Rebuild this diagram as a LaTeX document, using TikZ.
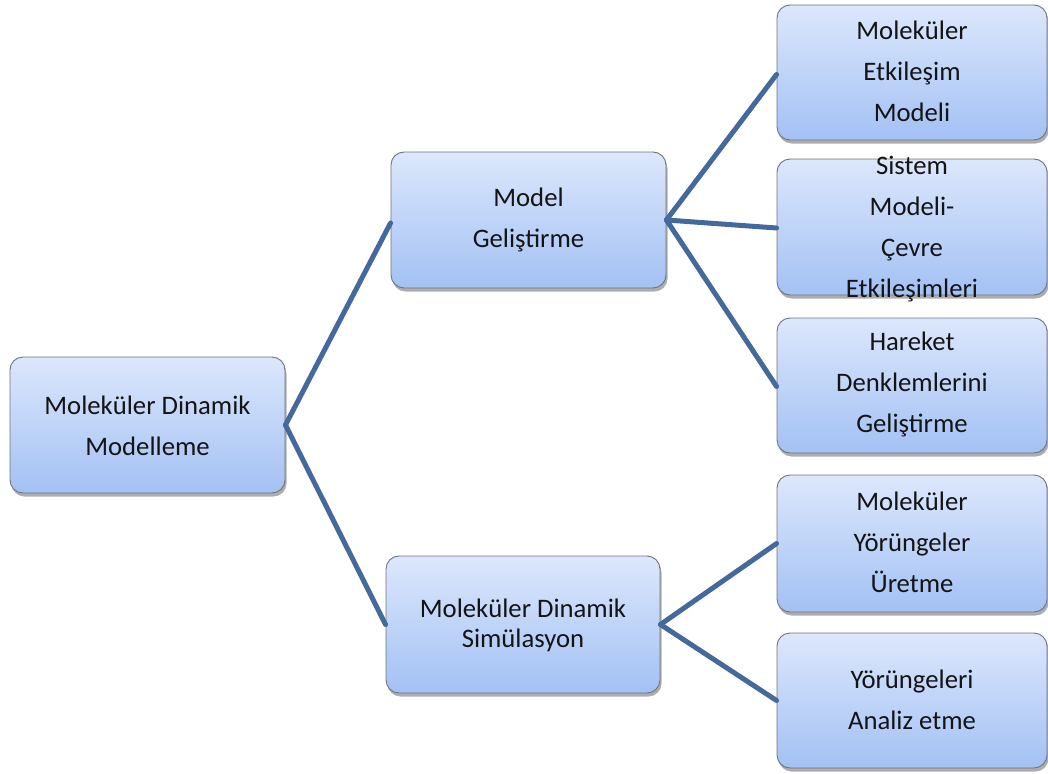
\documentclass[tikz,border=0pt]{standalone}
\usepackage{fontspec}
\setmainfont{Carlito}
\usetikzlibrary{shadows}
\definecolor{boxtop}{HTML}{DCE7FC}
\definecolor{boxbot}{HTML}{A3C1F4}
\definecolor{boxedge}{HTML}{6E737C}
\definecolor{conn}{HTML}{44699D}
\tikzset{
  mdbox/.style={draw=boxedge, line width=0.9pt, rounded corners=13pt,
    top color=boxtop, bottom color=boxbot, inner sep=0pt,
    drop shadow={shadow xshift=1.5pt, shadow yshift=-3.5pt, opacity=0.32, fill=black}},
  lbl/.style={font=\fontsize{26.7}{41}\selectfont, align=center, text=black!92, inner sep=0pt},
  lbltight/.style={font=\fontsize{26.7}{30}\selectfont, align=center, text=black!92, inner sep=0pt},
  conn/.style={draw=conn, line width=5pt, line cap=round},
}
\begin{document}
\begin{tikzpicture}[x=1pt, y=-1pt]
\useasboundingbox (0,0) rectangle (1048,773);
% boxes
\node[mdbox, minimum width=275pt, minimum height=136pt] (root) at (147.5,425) {};
\node[mdbox, minimum width=275pt, minimum height=136pt] (model) at (528.5,220) {};
\node[mdbox, minimum width=274pt, minimum height=137pt] (sim) at (523,624.5) {};
\node[mdbox, minimum width=270pt, minimum height=135pt] (r1) at (912,72.5) {};
\node[mdbox, minimum width=270pt, minimum height=136pt] (r2) at (912,227) {};
\node[mdbox, minimum width=270pt, minimum height=135pt] (r3) at (912,385.5) {};
\node[mdbox, minimum width=270pt, minimum height=137pt] (r4) at (912,543.5) {};
\node[mdbox, minimum width=270pt, minimum height=135pt] (r5) at (912,700.5) {};
% connectors
\draw[conn] (root.east) -- ([yshift=-3pt]model.west);
\draw[conn] (root.east) -- ([yshift=0pt]sim.west);
\draw[conn] (model.east) -- ([yshift=-2pt]r1.west);
\draw[conn] (model.east) -- ([yshift=-1pt]r2.west);
\draw[conn] (model.east) -- ([yshift=-1pt]r3.west);
\draw[conn] (sim.east) -- (r4.west);
\draw[conn] (sim.east) -- (r5.west);
% texts
\node[lbl] (troot) at (147.5,426) {Moleküler Dinamik\\Modelleme};
\node[lbl] (tmodel) at (528.5,220) {Model\\Geliştirme};
\node[lbltight] (tsim) at (523,625) {Moleküler Dinamik\\Simülasyon};
\node[lbl] (tr1) at (912,71) {Moleküler\\Etkileşim\\Modeli};
\node[lbl] (tr2) at (912,229) {Sistem\\Modeli-\\Çevre\\Etkileşimleri};
\node[lbl] (tr3) at (912,384) {Hareket\\Denklemlerini\\Geliştirme};
\node[lbl] (tr4) at (912,542) {Moleküler\\Yörüngeler\\Üretme};
\node[lbl] (tr5) at (912,700) {Yörüngeleri\\Analiz etme};
\end{tikzpicture}
\end{document}
